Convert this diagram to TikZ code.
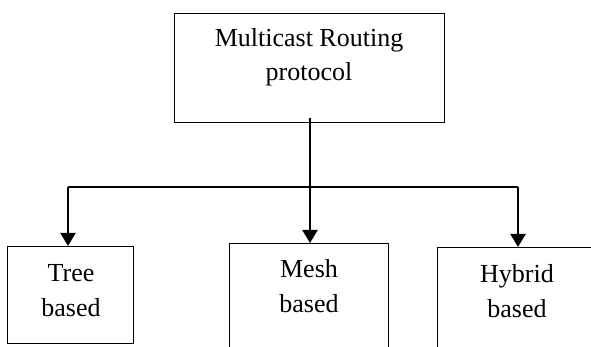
\documentclass[tikz,border=0pt]{standalone}
\usepackage{fontspec}
\setmainfont{Liberation Serif}
\usetikzlibrary{arrows.meta}
\tikzset{
  box/.style={draw=black, line width=0.9pt, fill=white, inner sep=0pt, anchor=north west},
  lbl/.style={font=\fontsize{26}{35}\selectfont, align=center, anchor=base, inner sep=0pt},
  conn/.style={draw=black, line width=2.2pt},
  arr/.style={conn, -{Triangle[length=13pt,width=15pt]}, shorten >=0pt}
}
\begin{document}
\begin{tikzpicture}[x=1pt,y=-1pt]
\clip (0,0) rectangle (591,347);
\fill[white] (0,0) rectangle (591,347);
% boxes
\node[box, minimum width=270pt, minimum height=109pt] (top) at (174,13) {};
\node[box, minimum width=126pt, minimum height=97pt] (tree) at (7,246) {};
\node[box, minimum width=159pt, minimum height=130pt] (mesh) at (229,243) {};
\node[box, minimum width=170pt, minimum height=130pt] (hybrid) at (437,247) {};
% labels (anchor base = baseline of the last line)
\node[lbl, font=\fontsize{26}{34}\selectfont] (ttop) at (309,81) {Multicast Routing\\protocol};
\node[lbl] (ttree) at (71,316) {Tree\\based};
\node[lbl] (tmesh) at (309,312) {Mesh\\based};
\node[lbl] (thybrid) at (517,317) {Hybrid\\based};
% connectors
\coordinate (s) at (310,118);
\coordinate (j) at (310,187);
\coordinate (tj) at (68,187);
\coordinate (hj) at (518,187);
\draw[conn] (s) -- (j);
\draw[conn] (tj) -- (hj);
\draw[arr] (tj) -- (tj |- tree.north);
\draw[arr] (j) -- (j |- mesh.north);
\draw[arr] (hj) -- (hj |- hybrid.north);
\end{tikzpicture}
\end{document}
